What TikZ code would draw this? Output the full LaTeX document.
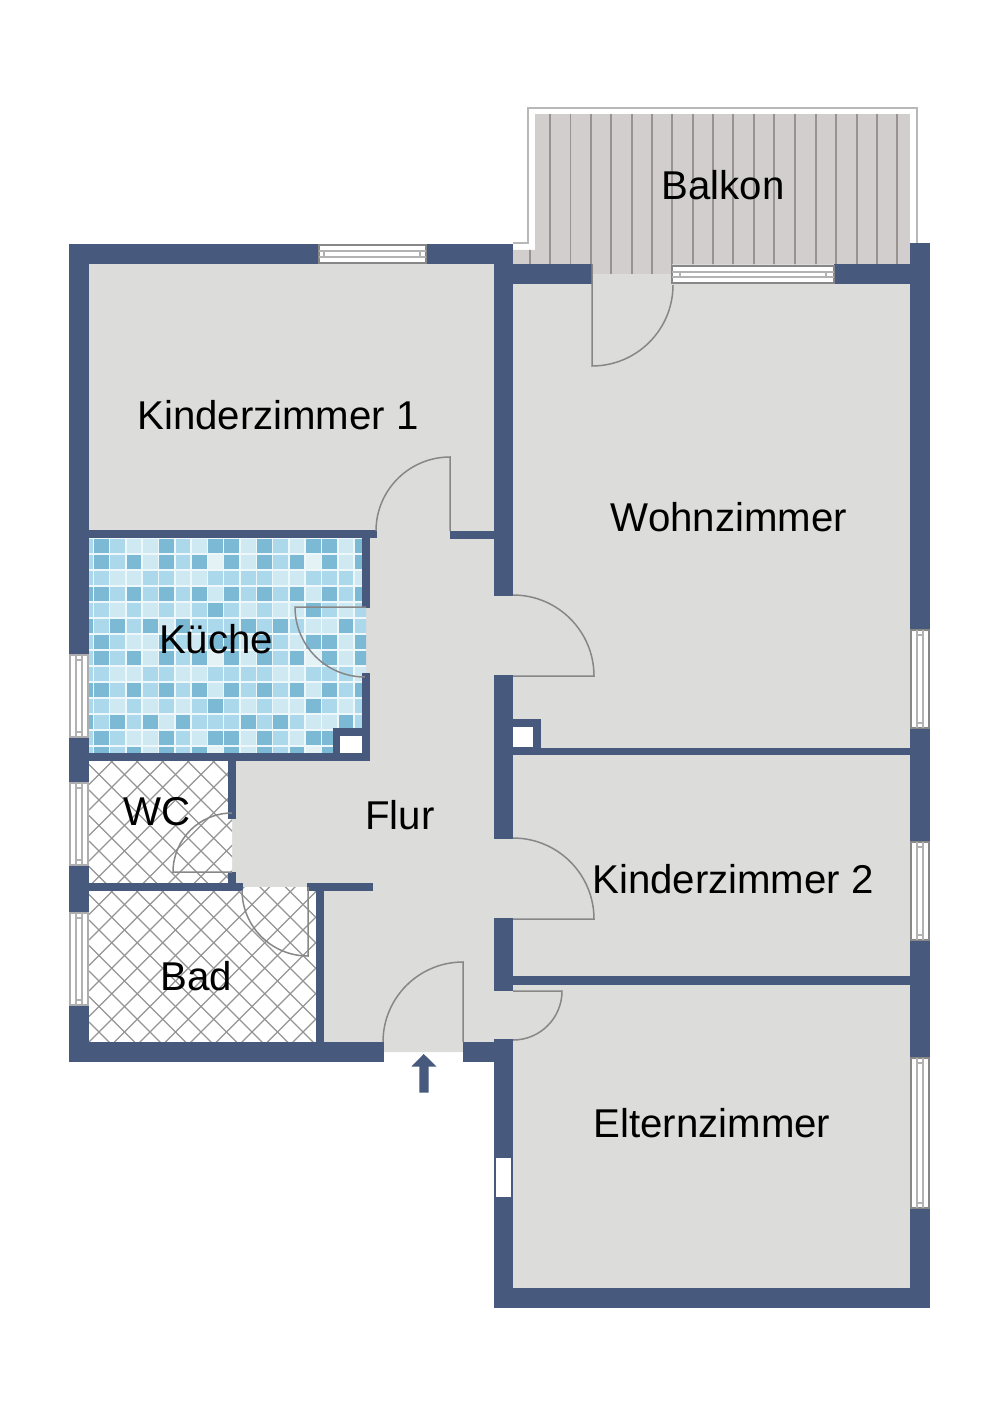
\documentclass[tikz,border=0pt]{standalone}
\usepackage{fontspec}
\setmainfont{Liberation Sans}
\definecolor{wallblue}{HTML}{47597C}
\definecolor{floorgrey}{HTML}{DCDCDB}
\definecolor{leafgrey}{HTML}{878787}
\definecolor{woodfloor}{HTML}{D3CECE}
\definecolor{woodline}{HTML}{989391}
\definecolor{tile0}{HTML}{E4F2F6}
\definecolor{tile1}{HTML}{CFE9F3}
\definecolor{tile2}{HTML}{ABD9EB}
\definecolor{tile3}{HTML}{7CB9D5}
\definecolor{grout}{HTML}{EEF7FA}
\tikzset{
        wall/.style={fill=wallblue},
        doorleaf/.style={draw=leafgrey,line width=1.5pt},
        windowframe/.style={draw=leafgrey,fill=white,line width=1.3pt},
        windowpane/.style={draw=black!30,line width=1.1pt},
        gridline/.style={draw=black!42,line width=1.2pt},
        roomlabel/.style={font=\fontsize{40.2}{44}\selectfont,anchor=base,inner sep=0pt}
}
\begin{document}
\begin{tikzpicture}[x=1pt,y=-1pt]
        \useasboundingbox (0,0) rectangle (1000,1415);
        \fill[floorgrey] (89,264) -- (910,264) -- (910,1288) -- (513,1288) -- (513,1052) -- (384,1052) -- (384,1042) -- (89,1042) -- cycle;

        \draw[draw=black!28,line width=1.2pt] (513,243) -- (528,243) -- (528,108) -- (917,108) -- (917,243);
        \begin{scope}
                \clip (535,114) -- (910,114) -- (910,264) -- (672,264) -- (672,274) -- (592,274) -- (592,264) -- (513,264) -- (513,250) -- (535,250) -- cycle;
                \fill[woodfloor] (513,114) rectangle (910,274);
                \foreach \px in {530,550,570.7,591,611,632,652,672,693,713,733,754,774,795,816,836,857,877,897}
                        \draw[woodline,line width=1.3pt] (\px,114) -- (\px,274);
        \end{scope}

        \begin{scope}
                \clip (89,538) rectangle (362,753) (362,608) rectangle (366,673);
                \fill[grout] (89,538) rectangle (366,753);
                \foreach \rep in {0,1,2}
                        \foreach \tilerow [count=\r from 0] in {{2,3,2,1,1,3,2,1,3,3,1,3,2,1,3,3,1,3},{2,3,2,3,1,3,2,3,0,3,1,3,2,3,0,3,1,3},{2,2,1,1,2,2,1,1,2,2,2,2,1,1,2,2,2,1},{3,3,2,3,2,3,2,3,1,3,2,3,2,3,1,3,2,3},{2,2,1,2,1,2,1,2,3,2,1,2,1,1,3,2,1,2},{3,2,3,2,3,1,3,2,2,2,3,2,3,2,1,1,3,2}}
                                \foreach \t [count=\c from 0] in \tilerow
                                        \fill[tile\t] ({77.7+16.3*\c},{538.6+16*(\r+6*\rep)}) rectangle +(14.8,14.5);
        \end{scope}

        \fill[white] (89,761) rectangle (232,883) (89,887) rectangle (316,1042);
        \begin{scope}
                \clip (89,761) rectangle (228,883) (228,819) rectangle (232,872);
                \foreach \k in {-6,...,10} {
                        \draw[gridline] (89,{873.4+25.5*\k-89}) -- (240,{873.4+25.5*\k-240});
                        \draw[gridline] (89,{89+650-25.5*\k}) -- (240,{240+650-25.5*\k});
                }
        \end{scope}
        \begin{scope}
                \clip (89,891) rectangle (316,1042) (243,887) rectangle (308,891);
                \foreach \k in {-8,...,14} {
                        \draw[gridline] (89,{1003.4+25.5*\k-89}) -- (330,{1003.4+25.5*\k-330});
                        \draw[gridline] (89,{89+780-25.5*\k}) -- (330,{330+780-25.5*\k});
                }
        \end{scope}

        \fill[wall] (69,244) rectangle (513,264);
        \fill[wall] (69,244) rectangle (89,1062);
        \fill[wall] (69,1042) rectangle (384,1062);
        \fill[wall] (463,1042) rectangle (513,1062);
        \fill[wall] (494,244) rectangle (513,596);
        \fill[wall] (494,675) rectangle (513,839);
        \fill[wall] (494,918) rectangle (513,991);
        \fill[wall] (494,1039) rectangle (513,1308);
        \fill[wall] (910,243) rectangle (930,1308);
        \fill[wall] (494,1288) rectangle (930,1308);
        \fill[wall] (513,264) rectangle (592,284);
        \fill[wall] (834,264) rectangle (910,284);
        \fill[wall] (513,748) rectangle (910,755);
        \fill[wall] (513,976) rectangle (910,985);
        \fill[wall] (513,719) rectangle (541,755);
        \fill[wall] (89,530) rectangle (377,538);
        \fill[wall] (450,531) rectangle (494,539);
        \fill[wall] (362,530) rectangle (370,608);
        \fill[wall] (362,673) rectangle (370,761);
        \fill[wall] (89,753) rectangle (370,761);
        \fill[wall] (333,728) rectangle (362,753);
        \fill[wall] (228,761) rectangle (236,819);
        \fill[wall] (228,872) rectangle (236,891);
        \fill[wall] (89,883) rectangle (243,891);
        \fill[wall] (307,883) rectangle (373,891);
        \fill[wall] (316,883) rectangle (324,1042);

        \fill[white] (513,727) rectangle (533,747);
        \fill[white] (340,736) rectangle (362,753);
        \fill[white] (496,1158) rectangle (511,1197);

        \foreach \ya/\yb in {655/737,783/865,913/1005} {
                \draw[windowframe,draw=black!32] (70,\ya) rectangle (88,\yb);
                \draw[windowpane] (76,\ya) -- (76,\yb) (82,\ya) -- (82,\yb) (76,\ya+5) -- (82,\ya+5) (76,\yb-5) -- (82,\yb-5);
        }
        \foreach \ya/\yb in {630/728,842/940,1058/1208} {
                \draw[windowframe] (911,\ya) rectangle (929,\yb);
                \draw[windowpane] (917,\ya) -- (917,\yb) (923,\ya) -- (923,\yb) (917,\ya+5) -- (923,\ya+5) (917,\yb-5) -- (923,\yb-5);
        }
        \draw[windowframe] (319,245) rectangle (426,263);
        \draw[windowpane] (319,251) -- (426,251) (319,257) -- (426,257) (324,251) -- (324,257) (420,251) -- (420,257);
        \draw[windowframe] (672,266) rectangle (834,283);
        \draw[windowpane] (672,272) -- (834,272) (672,277) -- (834,277) (680,272) -- (680,277) (826,272) -- (826,277);

        \draw[doorleaf] (592,264) -- (592,366) arc[start angle=-90,end angle=0,radius=81pt];
        \draw[doorleaf] (450,531) -- (450,457) arc[start angle=90,end angle=180,radius=74pt];
        \draw[doorleaf] (513,595) arc[start angle=90,end angle=0,radius=81pt] -- (513,676);
        \draw[doorleaf] (513,838) arc[start angle=90,end angle=0,radius=81pt] -- (513,919);
        \draw[doorleaf] (513,991) -- (562,991) arc[start angle=0,end angle=-90,radius=49pt];
        \draw[doorleaf] (463,1042) -- (463,962) arc[start angle=90,end angle=180,radius=80pt];
        \draw[doorleaf] (366,607) -- (295,607) arc[start angle=180,end angle=270,radius=70pt];
        \draw[doorleaf] (232,872) -- (173,872) arc[start angle=180,end angle=90,radius=59pt];
        \draw[doorleaf] (308,887) -- (308,956) arc[start angle=-90,end angle=-180,radius=66pt];

        \fill[wall] (423.7,1054) -- (436.7,1066.7) -- (428.7,1066.7) -- (428.7,1092.7) -- (419.3,1092.7) -- (419.3,1066.7) -- (411.3,1066.7) -- cycle;

        \node[roomlabel] (balkon) at (723,200) {Balkon};
        \node[roomlabel] (kinder1) at (278,429) {Kinderzimmer 1};
        \node[roomlabel] (wohnen) at (729,531) {Wohnzimmer};
        \node[roomlabel] (kueche) at (216,653) {Küche};
        \node[roomlabel] (wc) at (157,825) {WC};
        \node[roomlabel] (flur) at (400,829) {Flur};
        \node[roomlabel] (bad) at (196,990) {Bad};
        \node[roomlabel] (kinder2) at (733,893) {Kinderzimmer 2};
        \node[roomlabel] (eltern) at (712,1137) {Elternzimmer};
\end{tikzpicture}
\end{document}
